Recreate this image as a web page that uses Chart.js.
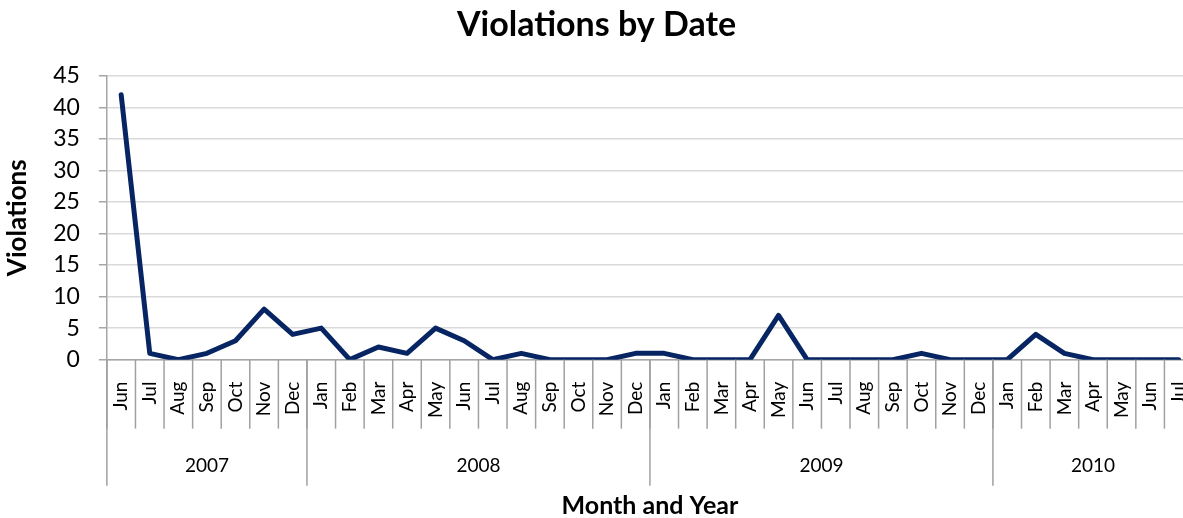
<!DOCTYPE html>
<html>
<head>
<meta charset="utf-8">
<script src="https://cdn.jsdelivr.net/npm/chart.js@4/dist/chart.umd.min.js"></script>
<style>
  html, body { margin: 0; padding: 0; background: #fff; overflow: hidden; }
  #chart { display: block; }
</style>
</head>
<body>
<canvas id="chart" width="1196" height="518"></canvas>
<script>
const months = [
  "Jun", "Jul", "Aug", "Sep", "Oct", "Nov", "Dec",
  "Jan", "Feb", "Mar", "Apr", "May", "Jun", "Jul", "Aug", "Sep", "Oct", "Nov", "Dec",
  "Jan", "Feb", "Mar", "Apr", "May", "Jun", "Jul", "Aug", "Sep", "Oct", "Nov", "Dec",
  "Jan", "Feb", "Mar", "Apr", "May", "Jun", "Jul"
];
const violations = [
  42, 1, 0, 1, 3, 8, 4,
  5, 0, 2, 1, 5, 3, 0, 1, 0, 0, 0, 1,
  1, 0, 0, 0, 7, 0, 0, 0, 0, 1, 0, 0,
  0, 4, 1, 0, 0, 0, 0
];
const years = ["2007", "2008", "2009", "2010"];
const yearCounts = [7, 12, 12, 7];
const yTicks = [0, 5, 10, 15, 20, 25, 30, 35, 40, 45];

const FONT = "Lato, 'Open Sans', sans-serif";

// month separators and the year row under the axis
const yearRow = {
  id: "yearRow",
  afterDraw(chart) {
    const x = chart.scales.x;
    const ctx = chart.ctx;
    const top = x.top;
    const step = x.getPixelForValue(1) - x.getPixelForValue(0);
    ctx.save();
    ctx.strokeStyle = "#a0a0a0";
    ctx.lineWidth = 1.5;
    for (let i = 0; i <= months.length; i++) {
      const px = x.getPixelForValue(i) - step / 2;
      ctx.beginPath();
      ctx.moveTo(px, top);
      ctx.lineTo(px, top + 69);
      ctx.stroke();
    }
    let start = 0;
    ctx.fillStyle = "#000";
    ctx.font = "19px " + FONT;
    ctx.textAlign = "center";
    ctx.textBaseline = "middle";
    years.forEach((yr, k) => {
      const left = x.getPixelForValue(start) - step / 2;
      const right = x.getPixelForValue(start + yearCounts[k]) - step / 2;
      ctx.beginPath();
      ctx.moveTo(left, top);
      ctx.lineTo(left, top + 126);
      ctx.stroke();
      ctx.fillText(yr, (left + right) / 2, top + 106);
      start += yearCounts[k];
    });
    ctx.restore();
  }
};

new Chart(document.getElementById("chart"), {
  type: "line",
  data: {
    labels: months,
    datasets: [{
      label: "Violations",
      data: violations,
      borderColor: "#072563",
      borderWidth: 5,
      borderJoinStyle: "round",
      borderCapStyle: "round",
      pointRadius: 0,
      tension: 0,
      fill: false
    }]
  },
  options: {
    responsive: false,
    animation: false,
    layout: { padding: { left: 0, right: 3, top: 0, bottom: 0 } },
    plugins: {
      legend: { display: false },
      tooltip: { enabled: false },
      title: {
        display: true,
        text: "Violations by Date",
        color: "#000",
        font: { family: FONT, size: 34, weight: "bold" },
        padding: { top: 5, bottom: 30 }
      }
    },
    scales: {
      x: {
        offset: true,
        // rotated labels make chart.js reserve side padding; drop it
        afterFit: s => { s.paddingLeft = 0; s.paddingRight = 0; },
        grid: { display: true, drawOnChartArea: false, drawTicks: false },
        border: { color: "#a6a6a6", width: 1.5 },
        ticks: {
          autoSkip: false,
          maxRotation: 90,
          minRotation: 90,
          padding: 22,
          color: "#000",
          font: { family: FONT, size: 19 }
        },
        title: {
          display: true,
          text: "Month and Year",
          color: "#000",
          font: { family: FONT, size: 25, weight: "bold", lineHeight: 1 },
          padding: { top: 53, bottom: 0 }
        }
      },
      y: {
        min: 0,
        max: 45,
        afterBuildTicks: axis => { axis.ticks = yTicks.map(v => ({ value: v })); },
        grid: { color: "#d9d9d9", lineWidth: 1.5, tickLength: 8, tickColor: "#a6a6a6" },
        border: { color: "#a6a6a6", width: 1.5 },
        ticks: {
          autoSkip: false,
          padding: 19,
          color: "#000",
          font: { family: FONT, size: 23 }
        },
        title: {
          display: true,
          text: "Violations",
          color: "#000",
          font: { family: FONT, size: 26, weight: "bold" },
          padding: { top: 2, bottom: 1 }
        }
      }
    }
  },
  plugins: [yearRow]
});
</script>
</body>
</html>
